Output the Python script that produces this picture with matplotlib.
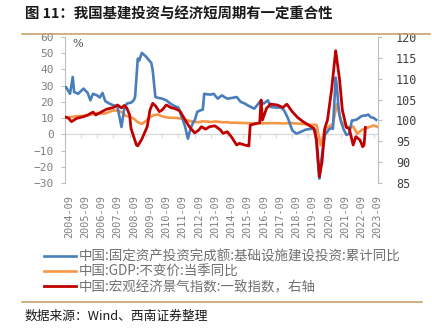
import pandas as pd
import matplotlib
matplotlib.use('Agg')
import matplotlib.pyplot as plt
from matplotlib.lines import Line2D

plt.rcParams['font.family'] = ['Noto Sans CJK SC', 'DejaVu Sans']

# 基础设施建设投资累计同比 (%)
infra_dates = ['2004-06', '2004-07', '2004-10', '2004-12', '2005-01', '2005-04', '2005-08',
               '2005-11', '2006-01', '2006-03', '2006-06', '2006-08', '2006-10', '2006-12',
               '2007-03', '2007-06', '2007-09', '2007-12', '2008-02', '2008-04', '2008-07',
               '2008-09', '2008-10', '2008-12', '2009-01', '2009-03', '2009-06', '2009-09',
               '2009-10', '2009-11', '2010-01', '2010-03', '2010-06', '2010-09', '2010-12',
               '2011-03', '2011-06', '2011-08', '2011-09', '2011-11', '2012-01', '2012-03',
               '2012-05', '2012-06', '2012-08', '2012-11', '2012-12', '2013-01', '2013-03',
               '2013-06', '2013-08', '2013-11', '2014-02', '2014-06', '2014-10', '2015-01',
               '2015-04', '2015-07', '2015-09', '2016-02', '2016-06', '2016-09', '2016-12',
               '2017-02', '2017-06', '2017-10', '2017-12', '2018-03', '2018-06', '2018-09',
               '2018-12', '2019-04', '2019-09', '2019-11', '2020-02', '2020-03', '2020-06',
               '2020-09', '2020-11', '2020-12', '2021-02', '2021-03', '2021-04', '2021-05',
               '2021-06', '2021-08', '2021-10', '2021-12', '2022-02', '2022-03', '2022-06',
               '2022-09', '2022-11', '2022-12', '2023-02', '2023-04', '2023-06', '2023-08']
infra_yoy = [28.8, 29.2, 25.0, 35.4, 26.1, 25.0, 28.2,
             25.5, 21.0, 25.0, 24.0, 22.7, 25.5, 20.5,
             19.0, 17.9, 16.9, 4.5, 15.8, 19.0, 19.5,
             21.0, 23.0, 46.7, 45.5, 50.2, 48.0, 45.0,
             44.0, 39.5, 23.0, 22.5, 22.0, 21.0, 19.0,
             17.5, 16.5, 11.7, 9.7, 4.5, -2.7, 3.5,
             7.6, 8.6, 14.0, 15.0, 15.2, 25.0, 24.7,
             24.5, 25.0, 22.0, 24.0, 22.0, 22.5, 23.0,
             20.0, 19.0, 17.9, 15.8, 20.0, 19.0, 21.0,
             16.9, 16.5, 16.5, 14.8, 9.7, 2.5, 0.4,
             1.4, 2.9, 3.5, 2.5, -27.3, -19.0, -0.5,
             3.0, 4.0, 3.4, 35.0, 29.5, 18.0, 11.5,
             7.8, 2.9, -0.4, 0.4, 8.6, 8.5, 9.3,
             11.2, 11.6, 11.5, 12.2, 10.5, 10.2, 8.9]

# GDP不变价当季同比 (%)
gdp_dates = ['2004-06', '2004-09', '2004-12', '2005-03', '2005-06', '2005-09', '2005-12',
             '2006-03', '2006-06', '2006-09', '2006-12', '2007-03', '2007-06', '2007-09',
             '2007-12', '2008-03', '2008-06', '2008-09', '2008-12', '2009-03', '2009-06',
             '2009-09', '2009-12', '2010-03', '2010-06', '2010-09', '2010-12', '2011-03',
             '2011-06', '2011-09', '2011-12', '2012-03', '2012-06', '2012-09', '2012-12',
             '2013-03', '2013-06', '2013-09', '2013-12', '2014-03', '2014-06', '2014-09',
             '2014-12', '2015-03', '2015-06', '2015-09', '2015-12', '2016-03', '2016-06',
             '2016-09', '2016-12', '2017-03', '2017-06', '2017-09', '2017-12', '2018-03',
             '2018-06', '2018-09', '2018-12', '2019-03', '2019-06', '2019-09', '2019-12',
             '2020-03', '2020-06', '2020-09', '2020-12', '2021-03', '2021-06', '2021-09',
             '2021-12', '2022-03', '2022-06', '2022-09', '2022-12', '2023-03', '2023-06',
             '2023-09']
gdp_yoy = [10.5, 10.5, 10.8, 11.2, 11.3, 11.5, 11.8,
           12.5, 13.2, 12.8, 12.8, 13.8, 14.8, 14.5,
           13.8, 11.5, 10.8, 9.7, 7.5, 6.4, 8.2,
           10.5, 11.9, 12.2, 11.1, 10.5, 10.2, 10.2,
           10.0, 9.5, 8.8, 8.1, 7.6, 7.5, 8.0,
           7.9, 7.6, 7.9, 7.7, 7.4, 7.5, 7.1,
           7.2, 7.0, 7.0, 6.9, 6.8, 6.8, 6.8,
           6.8, 6.9, 6.9, 6.9, 6.8, 6.7, 6.9,
           6.9, 6.7, 6.5, 6.3, 6.0, 5.9, 5.8,
           -6.8, 3.1, 4.8, 6.4, 18.7, 8.3, 5.2,
           4.3, 4.8, 0.4, 2.5, 3.5, 4.5, 5.5,
           4.6]

# 宏观经济景气指数：一致指数 (右轴)
ci_dates = ['2004-06', '2004-09', '2004-11', '2005-03', '2005-08', '2005-11', '2006-03',
            '2006-05', '2006-09', '2007-01', '2007-06', '2007-09', '2007-12', '2008-02',
            '2008-04', '2008-06', '2008-07', '2008-11', '2008-12', '2009-03', '2009-07',
            '2009-09', '2009-11', '2010-01', '2010-04', '2010-06', '2010-09', '2011-01',
            '2011-03', '2011-07', '2011-11', '2012-02', '2012-06', '2012-09', '2012-11',
            '2013-02', '2013-05', '2013-09', '2014-01', '2014-03', '2014-06', '2014-09',
            '2015-01', '2015-03', '2015-07', '2015-10', '2015-11', '2016-04', '2016-06',
            '2016-07', '2016-08', '2016-11', '2017-02', '2017-07', '2017-11', '2018-02',
            '2018-06', '2018-10', '2019-02', '2019-07', '2019-10', '2019-12', '2020-02',
            '2020-04', '2020-06', '2020-08', '2020-11', '2021-02', '2021-03', '2021-05',
            '2021-07', '2021-10', '2021-12', '2022-03', '2022-05', '2022-08', '2022-10',
            '2022-11', '2022-12']
ci_index = [100.9, 100.5, 99.7, 100.5, 100.9, 101.3, 102.0,
            101.3, 102.0, 102.7, 103.1, 103.7, 103.0, 103.6,
            102.9, 101.3, 98.1, 94.1, 93.9, 95.5, 98.5,
            102.5, 104.1, 103.5, 102.1, 102.5, 103.7, 103.0,
            102.9, 102.3, 100.1, 98.5, 97.0, 97.7, 98.5,
            97.9, 98.5, 98.7, 97.7, 96.9, 97.3, 96.1,
            94.1, 94.5, 94.1, 93.9, 98.9, 99.3, 99.4,
            104.9, 100.1, 102.9, 103.9, 103.7, 103.1, 103.9,
            102.1, 100.7, 99.7, 98.7, 98.1, 95.3, 86.5,
            90.1, 98.1, 100.1, 107.3, 116.7, 114.5, 109.7,
            102.5, 98.3, 98.1, 94.1, 96.1, 95.3, 93.7,
            94.1, 98.3]

tick_years = list(range(2004, 2024))
tick_labels = [f'{y}-09' for y in tick_years]

labels = ['中国:固定资产投资完成额:基础设施建设投资:累计同比',
          '中国:GDP:不变价:当季同比',
          '中国:宏观经济景气指数:一致指数，右轴']

W, H = 432, 328
fig = plt.figure(figsize=(W / 100, H / 100), dpi=100)
ax = fig.add_axes([65 / W, 1 - 183 / H, (378 - 65) / W, (183 - 37) / H])
ax2 = ax.twinx()

l1, = ax.plot(pd.to_datetime(infra_dates), infra_yoy, color='#4a7ebb', lw=1.9, zorder=3)
l2, = ax.plot(pd.to_datetime(gdp_dates), gdp_yoy, color='#f79646', lw=1.9, zorder=2)
l3, = ax2.plot(pd.to_datetime(ci_dates), ci_index, color='#c00000', lw=2.0)

# 横轴放在0处，刻度线朝下
ax.axhline(0, color='#d9d9d9', lw=0.9, zorder=1)
for y in tick_years:
    ax.plot([pd.Timestamp(f'{y}-06-01')] * 2, [0, -1.8], color='#d9d9d9', lw=0.9, zorder=1)

ax.set_xlim(pd.Timestamp('2004-06-10'), pd.Timestamp('2023-09-10'))
ax.set_ylim(-30, 60)
ax.set_yticks(range(-30, 61, 10))
ax2.set_ylim(85, 120)
ax2.set_yticks(range(85, 121, 5))

ax.set_xticks(pd.to_datetime([f'{y}-09-01' for y in tick_years]))
ax.set_xticklabels(tick_labels, rotation=90, family='DejaVu Sans Mono',
                   fontsize=7.3, color='#7f7f7f')
ax.tick_params(axis='x', length=0, pad=9)
ax.tick_params(axis='y', length=3, width=0.8, color='#bfbfbf', pad=5,
               labelsize=8, labelcolor='#7f7f7f')
ax2.tick_params(axis='y', length=3, width=0.8, color='#bfbfbf', pad=10,
                labelsize=8.5, labelcolor='#404040')
for t in ax.get_yticklabels() + ax2.get_yticklabels():
    t.set_family('DejaVu Sans Mono')

for a in (ax, ax2):
    for side in ('top', 'bottom'):
        a.spines[side].set_visible(False)
    a.spines['left'].set_color('#bfbfbf')
    a.spines['right'].set_color('#bfbfbf')
ax.spines['right'].set_visible(False)
ax2.spines['left'].set_visible(False)

ax.text(0.022, 0.93, '%', transform=ax.transAxes, fontsize=8,
        family='DejaVu Serif', color='#404040')

fig.legend([l1, l2, l3], labels, loc='upper left',
           bbox_to_anchor=(44 / W, 1 - 250 / H), frameon=False, fontsize=9.7,
           handlelength=2.4, handletextpad=0.2, labelspacing=0.08,
           borderpad=0, borderaxespad=0, labelcolor='#707070')

fig.text(25 / W, 1 - 15 / H, '图 11：我国基建投资与经济短周期有一定重合性',
         fontsize=10.4, fontweight='bold', va='center', color='#1a1a1a')
fig.add_artist(Line2D([22 / W, 430 / W], [1 - 34 / H] * 2, color='#c9a26a', lw=1.2))
fig.add_artist(Line2D([22 / W, 422 / W], [1 - 302 / H] * 2, color='#c9a26a', lw=1.2))
fig.text(25 / W, 1 - 316 / H, '数据来源：Wind、西南证券整理', fontsize=9.2,
         style='italic', va='center', color='#1a1a1a')

fig.savefig('out.png', dpi=100, facecolor='white')
plt.close(fig)
